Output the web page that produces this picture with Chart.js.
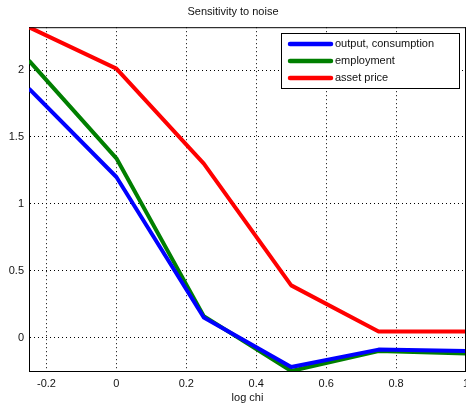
<!DOCTYPE html>
<html>
<head>
<meta charset="utf-8">
<script src="https://cdn.jsdelivr.net/npm/chart.js@4"></script>
<style>
  html, body { margin: 0; padding: 0; background: #fff; }
  #wrap { width: 466px; height: 407px; }
</style>
</head>
<body>
<div id="wrap"><canvas id="chartNoise"></canvas></div>
<script>
// valores
const logChi = [-0.25, 0, 0.25, 0.5, 0.75, 1];
const outputCons = [1.86, 1.20, 0.15, -0.22, -0.09, -0.10];
const employment = [2.07, 1.34, 0.16, -0.25, -0.10, -0.12];
const assetPrice = [2.32, 2.01, 1.30, 0.39, 0.045, 0.045];
const xTicks = [-0.2, 0, 0.2, 0.4, 0.6, 0.8, 1];
const yTicks = [0, 0.5, 1, 1.5, 2];

const FONT = { family: '"Liberation Sans", Arial, sans-serif', size: 11, weight: 'normal' };

function toPoints(ys) {
    return logChi.map((x, i) => ({ x: x, y: ys[i] }));
}

// borde superior + leyenda tipo matlab dentro del area
const matlabFrame = {
    id: 'matlabFrame',
    afterDraw(chart) {
        const ctx = chart.ctx;
        const a = chart.chartArea;
        ctx.save();
        ctx.strokeStyle = '#000';
        ctx.lineWidth = 1;
        ctx.beginPath();
        ctx.moveTo(a.left, a.top + 0.5);
        ctx.lineTo(a.right, a.top + 0.5);
        ctx.moveTo(a.right - 0.5, a.top);
        ctx.lineTo(a.right - 0.5, a.bottom);
        ctx.stroke();

        const bx = 281.5, by = 33.5, bw = 178, bh = 55;
        ctx.fillStyle = '#fff';
        ctx.fillRect(bx, by, bw, bh);
        ctx.strokeRect(bx, by, bw, bh);
        ctx.font = FONT.size + 'px ' + FONT.family;
        ctx.textBaseline = 'middle';
        chart.data.datasets.forEach((ds, i) => {
            const yy = 44 + i * 17;
            ctx.strokeStyle = ds.borderColor;
            ctx.lineWidth = 4.5;
            ctx.lineCap = 'round';
            ctx.beginPath();
            ctx.moveTo(290, yy);
            ctx.lineTo(331, yy);
            ctx.stroke();
            ctx.fillStyle = '#111';
            ctx.fillText(ds.label, 335, yy);
        });
        ctx.restore();
    }
};

new Chart(document.getElementById('chartNoise').getContext('2d'), {
    type: 'line',
    data: {
        datasets: [
            { label: 'output, consumption', data: toPoints(outputCons), borderColor: '#0000ff' },
            { label: 'employment', data: toPoints(employment), borderColor: '#007f00' },
            { label: 'asset price', data: toPoints(assetPrice), borderColor: '#ff0000' }
        ]
    },
    options: {
        responsive: true,
        maintainAspectRatio: false,
        animation: false,
        layout: { padding: 0 },
        elements: {
            line: { borderWidth: 4, tension: 0, borderJoinStyle: 'round' },
            point: { radius: 0 }
        },
        plugins: {
            legend: { display: false },
            tooltip: { enabled: false },
            title: {
                display: true,
                text: 'Sensitivity to noise',
                color: '#111',
                font: FONT,
                padding: { top: 5, bottom: 9 }
            }
        },
        scales: {
            x: {
                type: 'linear',
                min: -0.25,
                max: 1,
                afterBuildTicks: s => { s.ticks = xTicks.map(v => ({ value: v })); },
                afterFit: s => { s.height = 36; s.paddingLeft = 0; s.paddingRight = 0; },
                grid: { color: '#000', drawTicks: false, lineWidth: 1 },
                border: { color: '#000', width: 1, dash: [1, 3] },
                ticks: { color: '#111', font: FONT, padding: 6, maxRotation: 0,
                         callback: v => String(v) },
                title: { display: true, text: 'log chi', color: '#111', font: FONT,
                         padding: { top: 0, bottom: 2 } }
            },
            y: {
                type: 'linear',
                min: -0.25,
                max: 2.32,
                afterBuildTicks: s => { s.ticks = yTicks.map(v => ({ value: v })); },
                afterFit: s => { s.width = 29; s.paddingTop = 0; s.paddingBottom = 0; },
                grid: { color: '#000', drawTicks: false, lineWidth: 1 },
                border: { color: '#000', width: 1, dash: [1, 3] },
                ticks: { color: '#111', font: FONT, padding: 5,
                         callback: v => String(v) }
            }
        }
    },
    plugins: [matlabFrame]
});
</script>
</body>
</html>
